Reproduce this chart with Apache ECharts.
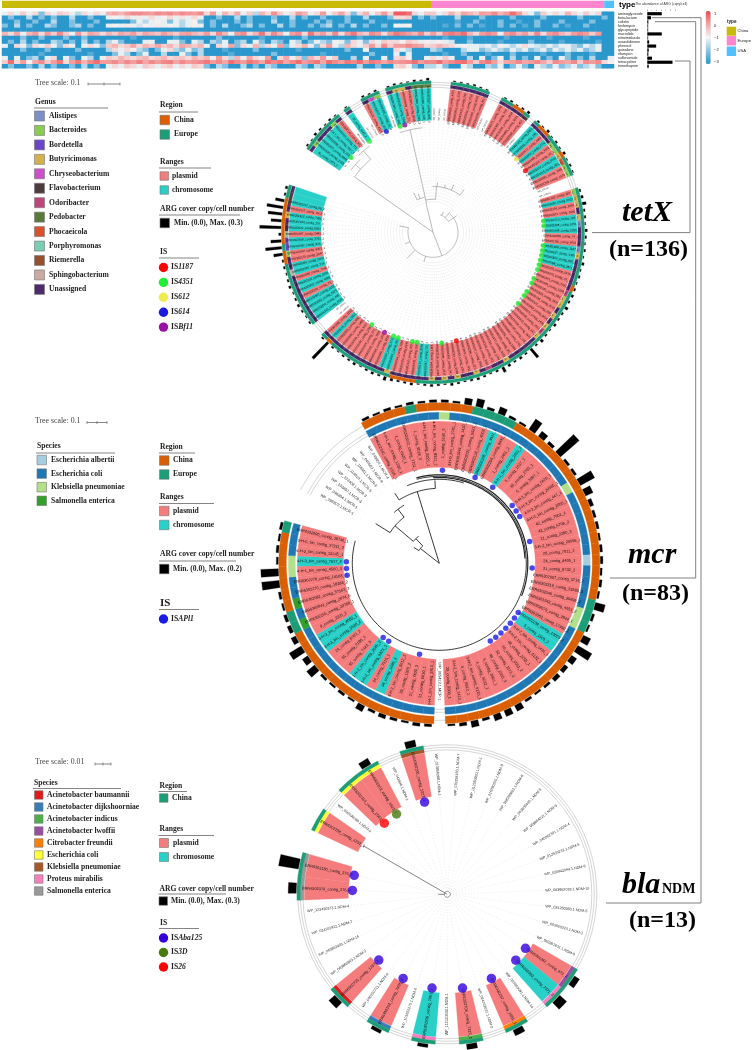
<!DOCTYPE html>
<html><head><meta charset="utf-8">
<style>html,body{margin:0;padding:0;background:#fff}#c{width:754px;height:1050px}</style>
<script src="https://cdn.jsdelivr.net/npm/echarts@6/dist/echarts.min.js"></script>
</head><body><div id="c"></div>
<script>
/* ---------- heatmap ---------- */
const heatRowNames=['aminoglycoside','beta-lactam','colistin','fosfomycin','glycopeptide','macrolide','nitroimidazole','oxazolidinone','phenicol','quinolone','rifamycin','sulfonamide','tetracycline','trimethoprim'];
const rowAminoglycoside=[-1,-.5,-1,-.3,-1,-.5,-2,-.5,-1,-.3,-.5,-1,-1.5,-.5,-1,-.5,-1,0,.2,0,.3,.5,.5,.4,.3,.5,.4,.5,.3,.5,.4,.3,.5,-.5,.3,-1,0,-.5,.2,-1,-.3,-1.5,0,-.5,.4,-.3,-1,-.5,.3,0,-1,-.5,.3,-1,-.3,.2,-.5,-2,-.5,0,-1,-.3,.3,-.5,1,1,.8,-.5,-1,-.3,-.3,-1,-.5,0,-.5,.2,0,-.3,.3,.2,.5,0,.3,.8,.3,-.5,-1,-2,-.3,-1,-.5,-1,0,-.5,-1,-.3,-1,-.5,-3,-3];
const rowBetaLactam=[-3,-2,-3,-3,-1.5,-3,-2,-3,-2,-3,-3,-1.5,-3,-3,-2,-3,-3,-1,-.8,-1,-.5,-1,-.7,-1,-.5,-1,-.8,-.5,-1,-.6,-1,-.5,-1,-3,-3,-2,-3,-3,-1.5,-3,-2,-3,-3,-3,-2,-3,-3,-1.5,-3,-2,-3,-3,-2,-3,-3,-3,-2,-3,-3,-1.5,-3,-3,-3,-2,-.5,-.5,-.3,-3,-2,-3,-2,-3,-3,-3,-1.5,-3,-3,-3,-2,-3,-3,-3,-3,-2,-3,-3,-3,-3,-2,-3,-3,-3,-3,-3,-2,-3,-3,-3,-2,-3];
const rowColistin=[-3,-3,-2,-3,-3,-2,-3,-3,-1.5,-3,-3,-2,-3,-3,-3,-2,-3,-3,-3,-3,-3,-2,-1,-1.5,-1,-.8,-1,-2,-1,-1.5,-1,-.8,-2,-3,-2,-3,-3,-3,-2,-3,-2,-3,-3,-3,-1.5,-3,-3,-2,-3,-3,-3,-2,-3,-2,-3,-3,-2,-3,-3,-3,-2,-3,-3,-3,-3,-3,-3,-3,-3,-3,-3,-3,-3,-3,-2.5,-3,-3,-2,-3,-3,-3,-2,-3,-3,-2.5,-3,-3,-2,-3,-3,-3,-2,-3,-3,-3,-3,-2,-3,-3,-3];
const rowFosfomycin=[-2,-3,-1.5,-3,-2,-3,-3,-1.5,-2,-3,-3,-2,-1.5,-3,-2,-3,-3,-1,-.8,-1,-.7,-1,-1.2,-.8,-1,-.7,-1,-.8,-1,-1.5,-1,-.8,-1,-3,-2,-3,-1.5,-3,-3,-2,-1.5,-3,-2,-3,-3,-1.5,-3,-2,-3,-3,-2,-3,-2,-1.5,-3,-2,-3,-1.5,-3,-2,-3,-3,-2,-3,-.8,-1,-.8,-3,-3,-3,-3,-3,-2.5,-3,-2,-3,-2,-3,-2.5,-3,-3,-2,-3,-2,-3,-2.5,-3,-2,-3,-3,-2,-3,-2.5,-3,-3,-2,-3,-3,-3,-3];
const rowGlycopeptide=[-3,-3,-3,-3,-3,-3,-3,-3,-3,-3,-3,-3,-3,-3,-3,-3,-3,-3,-3,-3,-3,-3,-3,-3,-3,-3,-3,-3,-3,-3,-3,-3,-3,-3,-3,-3,-3,-3,-3,-3,-3,-3,-3,-3,-3,-3,-3,-3,-3,-3,-3,-3,-3,-3,-3,-3,-3,-3,-3,-3,-3,-3,-3,-3,-3,-3,-3,-3,-3,-3,-3,-3,-3,-3,-3,-3,-3,-3,-3,-3,-3,-3,-3,-3,-3,-3,-3,-3,-3,-3,-3,-3,-3,-3,-3,-3,-3,-3,-3,-3];
const rowMacrolide=[0,-.5,.2,-1,0,.3,-.5,.3,-.3,.5,-.3,-1,.3,-.5,.2,0,-.5,0,-.3,.2,0,.3,-.3,.2,0,-.2,.3,0,-.3,.2,.3,0,-.2,.3,-.5,.5,0,-1,.3,.5,-.5,0,.7,-.3,.5,0,-1,.3,.5,-.5,.7,0,.3,-.3,.5,-.5,.3,.7,0,-.3,.5,.3,-.5,.3,.7,.5,.3,0,.5,-.3,.3,-.3,.5,.7,.5,.8,0,-.5,.3,.5,.3,-1,.3,.5,0,.3,-.3,.5,-.5,.3,.5,0,-.3,.3,.5,.3,-.3,.3,-3,-3];
const rowNitroimidazole=[-3,-3,-3,-2,-3,-3,-2,-3,-3,-3,-2,-3,-3,-2,-3,-3,-3,-3,-3,-3,-3,-2.5,-3,-3,-3,-3,-3,-3,-2.5,-3,-3,-3,-3,-3,-3,-2,-3,-3,-3,-3,-3,-3,-2.5,-3,-3,-3,-3,-3,-3,-2,-3,-3,-3,-3,-3,-3,-3,-3,-2.5,-3,-3,-3,-3,-3,-3,-3,-3,-3,-3,-3,-3,-3,-2.5,-3,-3,-3,-2.5,-3,-3,-3,-3,-3,-2.5,-3,-3,-3,-3,-3,-3,-2.5,-3,-3,-3,-3,-3,-2.5,-3,-3,-3,-3];
const rowOxazolidinone=[-3,-2,-3,-1.5,-3,-2,-3,-3,-1.5,-2,-3,-2,-3,-1.5,-3,-2,-3,-1.5,-1,-2,-3,-3,-3,-1,-1,-3,-3,-1,-1,-2,-3,-1,-1.5,-3,-1.5,-2,-1,-3,-2,-1.5,-3,-1,-2,-3,-1.5,-2,-3,-1,-1.5,-3,-2,-1,-1.5,-2,-.8,-1,-2,-.5,-1,-2,-.5,-1,-.3,-.5,-.5,-.8,-.3,-.5,-1,-.8,-1,-.8,-1,-1.2,-3,-3,-2,-3,-3,-3,-3,-2.5,-3,-3,-3,-3,-2,-3,-3,-3,-3,-2.5,-3,-3,-3,-3,-3,-2.5,-3,-3];
const rowPhenicol=[-1,-3,-.5,-1,-2,-.5,-1,-.3,-1,-2,-.5,-1,-3,-1,-.5,-1,-2,-.3,0,-.5,-.3,.2,-.5,0,-.3,.2,-.3,0,-.5,.2,0,-.3,0,-1,-3,-.5,-1,.2,-2,-.5,-1,0,-1.5,-.5,-1,.3,-2,-1,-.5,0,-1,-2,-.5,.3,-1,-1.5,0,-.5,-1,-.3,.3,-.5,.5,-.3,.3,.3,.5,.3,.2,-.5,-.3,0,-.3,-.5,-1,-.8,-1,-1,-1.2,-1,-1.5,-.8,-1,-1.5,-1,-.5,-1,-1.2,-1.5,-1,-1.5,-1,-1,-1.5,-2,-1,-1.5,-1,-3,-3];
const rowQuinolone=[-3,-3,-3,-2,-3,-3,-3,-2,-3,-3,-3,-3,-2,-3,-3,-3,-3,-1.5,-.5,-1,-.5,-.8,-1.5,-2,-3,-2,-1,-.5,-1.5,-2,-1,-2,-1.5,-3,-3,-3,-2.5,-3,-3,-3,-3,-2,-3,-3,-3,-3,-3,-3,-2.5,-3,-3,-3,-3,-3,-3,-3,-2,-3,-3,-.8,-3,-3,-3,-3,-.5,-1,-1.5,-3,-3,-3,-1.5,-2,-3,-3,-3,-1.5,-1,-1,-2,-1.5,-1,-1.5,-2,-1,-1.5,-1,-2,-1.5,-1,-2,-1,-1.5,-1,-1.5,-1,-2,-1.5,-1,-3,-3];
const rowRifamycin=[-3,-3,-3,-3,-3,-3,-2.5,-3,-3,-3,-3,-3,-3,-3,-2.5,-3,-3,-3,-2,-1,-1.5,-3,-2,-1,-3,-3,-1.5,-3,-3,-1,-2,-3,-1.5,-3,-3,-3,-3,-2.5,-3,-3,-3,-3,-3,-3,-2,-3,-3,-3,-3,-3,-3,-3,-2.5,-3,-3,-3,-3,-3,-3,-3,-2,-3,-3,-3,-1,-3,-1,-3,-3,-3,-3,-3,-2.5,-3,-3,-2,-3,-3,-3,-2.5,-3,-3,-3,-2,-3,-3,-3,-3,-2.5,-3,-3,-3,-2,-3,-3,-3,-2.5,-3,-3,-3];
const rowSulfonamide=[-1,-3,-1,-3,-2,-1.5,-3,-1,-.5,-3,-1,-2,-3,-1,-1.5,-3,-1,-.3,-.5,0,-.3,-.5,-.2,0,-.5,-.3,0,-.5,-.3,-.2,-.5,0,-.3,0,-1,.3,-.5,-1.5,0,-1,.2,-.5,-1,.3,-3,-.5,.2,-1,-.3,-2,0,-.5,.3,-1,-.3,-3,-3,-1.5,-3,-1,-3,-3,-1,-3,-.5,-.3,-.8,-3,-3,-1,-.5,-1,-.3,-1,-3,-3,-1.5,-3,-1,-3,-2,-.8,-3,-1.5,-3,-2,-3,-1,-3,-2,-3,-1,-2,-3,-2,-3,-1.5,-3,-3,-1];
const rowTetracycline=[-.3,.8,-.5,.3,-.8,.2,.5,-.3,.3,.7,-.5,.3,.7,0,.5,.8,.3,.3,.5,.2,.5,.3,.6,.2,.5,.3,.5,.6,.2,.5,.3,.4,.5,.7,.3,.5,.2,.8,.5,.3,.7,.5,.2,.8,.5,.7,.2,.5,.8,.3,.5,.7,.2,.8,.5,.3,.7,.5,.8,.3,.7,.5,.2,.5,.3,.4,.5,.8,.3,.5,.5,.8,.3,.5,.7,.8,.3,-.3,.5,.7,.3,-.5,.2,.3,.5,.2,.3,.5,.2,-.3,.5,.3,.2,.5,-.3,.5,.3,.5,-.5,-.8];
const rowTrimethoprim=[-3,-2,-3,-3,-2,-3,-1.5,-3,-2,-3,-3,-2,-3,-1.5,-3,-2,-3,-1,-.5,-1,-.3,-.5,-1,-.3,-.5,-1,-.5,-.3,-1,-.5,-1,-.3,-.5,-2,-3,-1.5,-2,-3,-3,-1.5,-3,-2,-3,-1.5,-2,-3,-3,-3,-1.5,-2,-3,-1.5,-2,-3,-3,-3,-3,-3,-1.5,-3,-3,-2,-3,-3,-.5,-.3,-.8,-2,-3,-1.5,-1.5,-1,-2,-3,-3,-1,-1.5,-3,-3,-1.5,-2,-1,-3,-2,-1,-2,-3,-1,-1.5,-2,-1,-2,-1.5,-1,-2,-1.5,-1,-2,-3,-3];
const heatRows=[rowAminoglycoside,rowBetaLactam,rowColistin,rowFosfomycin,rowGlycopeptide,rowMacrolide,rowNitroimidazole,rowOxazolidinone,rowPhenicol,rowQuinolone,rowRifamycin,rowSulfonamide,rowTetracycline,rowTrimethoprim];
const abundance=[3.1,.8,.2,.1,.1,3.1,.1,.4,1.9,.3,.2,1,5.4,.3];
const typeNames=['China','Europe','USA'];
const typeWidths=[70.1,28.3,1.6];
const typeColors=['#c9bb05','#ff85cf','#4fc1ff'];

/* ---------- shared colours ---------- */
const rangeColors={P:'#f57c7c',C:'#28d0c8',W:'transparent'};
const regionColors={C:'#d95f02',E:'#1b9e77',_:'transparent'};
const genusColors={A:'#7b8fc8',B:'#8acb52',D:'#6a45c8',T:'#d4b04e',H:'#cc4fcc',F:'#4d3b3e',O:'#c0457a',G:'#5a7a3c',N:'#d9502e',Y:'#79cdb2',R:'#96502e',S:'#c9a9a0',U:'#4d2a6c',_:'transparent'};
const mcrSpeciesColors={a:'#a6cee3',e:'#1f78b4',k:'#b2df8a',s:'#33a02c',_:'transparent'};
const blaSpeciesColors={b:'#e31a1c',d:'#377eb8',i:'#4daf4a',l:'#984ea3',c:'#ff7f00',e:'#ffff33',k:'#a65628',p:'#f781bf',s:'#999999',_:'transparent'};

/* ---------- tetX ---------- */
const tetxRangeRuns=[['C',6],['P',1],['W',1],['C',1],['W',2],['P',1],['C',2],['W',1],['C',2],['P',2],['C',3],['W',3],['P',6],['W',2],['P',5],['W',1],['C',2],['P',1],['C',1],['P',2],['C',2],['P',2],['W',2],['P',1],['C',1],['P',2],['C',3],['P',2],['C',4],['P',30],['C',2],['P',4],['C',2],['P',8],['C',1],['P',1],['W',2],['C',4],['P',1],['C',2],['P',1],['C',2],['P',2],['C',2],['P',1],['C',3],['P',1],['C',3]];
const tetxGenusRuns=[['U',1],['B',1],['U',3],['B',1],['U',1],['_',1],['U',1],['_',2],['U',1],['H',1],['B',1],['_',1],['U',1],['T',2],['U',1],['G',3],['_',3],['U',6],['_',2],['U',4],['F',1],['_',1],['U',4],['B',2],['T',1],['N',1],['B',2],['_',2],['B',1],['T',2],['U',1],['T',1],['A',1],['U',1],['U',2],['A',1],['T',1],['U',2],['U',3],['O',1],['T',2],['U',1],['T',1],['U',1],['T',1],['O',1],['T',1],['U',5],['T',1],['U',2],['O',1],['U',1],['T',1],['U',2],['T',1],['U',1],['T',1],['U',1],['T',1],['U',6],['T',1],['U',11],['_',2],['U',8],['S',1],['U',2],['B',1],['D',2],['Y',1],['U',2],['T',1],['U',1],['F',2],['U',1]];
const tetxRegionRuns=[['E',7],['_',1],['E',1],['_',2],['E',3],['_',1],['E',7],['_',3],['E',6],['_',2],['E',2],['C',2],['E',1],['_',1],['E',1],['C',2],['E',3],['C',1],['E',3],['_',2],['E',15],['C',1],['E',29],['C',4],['E',10],['C',1],['E',1],['_',2],['E',10],['C',2],['E',1],['C',7],['E',2]];
const tetxCopy=[.02,.01,.03,.02,.01,.02,.01,0,.01,0,0,.02,.01,.02,0,.01,.02,.01,.01,.02,.01,.03,0,0,0,.01,.01,.01,.02,.01,.01,0,0,.01,.02,.01,.02,.03,0,.02,.01,.03,.01,.02,.01,.03,.01,.02,.01,0,0,.02,.03,.05,.02,.02,.01,.03,.02,.01,.02,.01,.03,.01,.02,.01,.02,.03,.02,.04,.02,.02,.03,.01,.02,.04,.02,.15,.02,.03,.02,.03,.07,.02,.01,.02,.03,.02,.01,.02,.03,.01,.02,.03,.02,.01,.03,.02,.02,.03,.05,.02,.03,.02,.01,.03,.02,.02,.01,.02,.3,.02,0,0,.02,.01,.02,.03,.02,.01,.03,.02,.01,.02,.02,.12,.22,.14,.03,.29,.14,.19,.22,.12,.02,.03];
const tetxIS={'IS1187':[44,88],'IS4351':[3,8,15,55,56,60,61,62,63,64,65,67,68,70,71,73,91,96,97,100,101,106],'IS612':[41],'IS614':[12],'ISBf11':[16,103]};
const tetxLabels=['35_contig_7071_2','ERR6302140_contig_1325_1','ERR6301877_contig_8842_2','ERR6302093_contig_512_1','4-H-2_bin_contig_2917_1','ERR6302311_contig_771_3','SRR6302140_contig_90_2','WP_063856','22_contig_1143_1','WP_071412','WP_071413','ERR6301921_contig_4120_2','ERR6302077_contig_233_1','ERR6302290_contig_61_4','WP_014789','ERR6301845_contig_902_1','ERR6302118_contig_5521_2','ERR6301990_contig_37_1','ERR6302201_contig_8110_1','ERR6302066_contig_2190_3','ERR6301935_contig_148_1','ERR6302187_contig_603_2','WP_025001','WP_025002','WP_025003','ERR6302010_contig_4471_1','ERR6301866_contig_3370_2','ERR6302155_contig_291_1','ERR6302244_contig_7718_1','ERR6301908_contig_5603_2','ERR6302039_contig_86_1','WP_031022','WP_031023','ERR6302173_contig_1942_1','ERR6301952_contig_708_2','ERR6302266_contig_3314_1','ERR6301889_contig_6021_1','ERR6302098_contig_427_3','WP_048112','ERR6302130_contig_8855_1','ERR6302302_contig_190_2','ERR6301977_contig_4096_1','ERR6302051_contig_2742_2','ERR6301860_contig_1183_1','ERR6302214_contig_95_1','ERR6302147_contig_6640_4','ERR6301915_contig_321_1','ERR6302081_contig_7205_2','ERR6302259_contig_1570_1','WP_052140','WP_052141','ERR6301943_contig_887_1','ERR6302026_contig_3912_2','ERR6302196_contig_2066_1','ERR6301871_contig_5480_1','ERR6302113_contig_149_2','ERR6302328_contig_6731_1','ERR6301998_contig_2205_1','ERR6302059_contig_74_1','ERR6302165_contig_9031_2','ERR6301928_contig_1187_1','ERR6302237_contig_4450_1','ERR6301854_contig_660_3','ERR6302088_contig_2871_1','ERR6302125_contig_5316_2','ERR6302278_contig_43_1','ERR6301961_contig_7392_1','ERR6302044_contig_1608_2','ERR6302181_contig_982_1','ERR6301893_contig_3547_1','ERR6302106_contig_8120_2','ERR6302321_contig_266_1','ERR6301984_contig_6014_1','ERR6302072_contig_1439_1','ERR6302208_contig_7553_3','ERR6301939_contig_512_1','ERR6302034_contig_2930_2','ERR6302160_contig_118_1','ERR6301880_contig_4701_1','ERR6302251_contig_6287_2','ERR6302101_contig_35_1','ERR6301957_contig_9120_1','ERR6302019_contig_1764_2','ERR6302192_contig_843_1','ERR6301848_contig_3096_1','ERR6302137_contig_5502_1','ERR6302286_contig_227_2','ERR6301970_contig_7411_1','ERR6302063_contig_1351_1','ERR6302224_contig_6608_2','ERR6301901_contig_94_1','ERR6302095_contig_2817_1','ERR6302316_contig_4430_3','ERR6301994_contig_1906_1','ERR6302047_contig_735_1','ERR6302177_contig_8264_2','ERR6301925_contig_516_1','ERR6302120_contig_3072_1','ERR6302270_contig_6145_2','ERR6301864_contig_1290_1','ERR6302086_contig_88_1','ERR6302199_contig_5739_2','ERR6301946_contig_4215_1','ERR6302030_contig_1023_1','ERR6302152_contig_7860_1','ERR6301875_contig_371_2','ERR6302241_contig_2694_1','ERR6302109_contig_9317_1','ERR6301966_contig_1488_3','ERR6302056_contig_602_1','ERR6302218_contig_5051_1','ERR6301898_contig_2763_2','WP_055910','WP_055911','ERR6302143_contig_8129_1','ERR6302294_contig_446_1','ERR6301981_contig_6370_2','ERR6302069_contig_1152_1','ERR6302206_contig_73_1','ERR6301932_contig_4888_2','ERR6302116_contig_3205_1','ERR6301858_contig_7146_1','ERR6302262_contig_219_2','ERR6302024_contig_5930_1','ERR6302170_contig_1647_1','ERR6301949_contig_8403_1','ERR6302091_contig_926_2','ERR6302308_contig_3751_1','ERR6301987_contig_2480_1','ERR6302042_contig_6092_1','ERR6302184_contig_157_3','ERR6301912_contig_7284_1','ERR6302127_contig_4013_1','ERR6302247_contig_58_2'];
const tetxBranches=[[0,.7,96,.7],[96,.7,96,6.3],[96,6.3,107,6.3],[96,3,103,3],[103,1.5,103,4.5],[107,5,107,8],[0,85,25,85],[25,39,25,133],[25,133,34,133],[25,111,37,111],[0,17,30,17],[30,17.3,105,17.3],[105,15,105,20],[33,17.3,33,24],[33,24,46,24],[46,22,46,36.5],[46,24.3,50,24.3],[46,31.6,52,31.6],[46,36.5,53,36.5],[46,28,49,28],[36,12,36,17],[36,12,44,12],[36,14,41,14],[19,31,19,44],[19,44,29,44],[19,38,26,38],[19,33,23,33],[25,100,31,100],[25,120,30,120]];

/* ---------- mcr ---------- */
const mcrRangeRuns=[['W',8],['P',12],['C',1],['P',2],['C',1],['P',20],['C',2],['P',12],['W',1],['P',5],['C',1],['P',1],['C',2],['P',3],['C',2],['P',7],['C',1],['P',3]];
const mcrSpeciesRuns=[['_',8],['e',7],['k',1],['e',13],['k',1],['e',6],['a',1],['e',4],['k',2],['e',15],['_',1],['e',15],['s',1],['e',1],['s',1],['e',2],['k',2],['e',3]];
const mcrRegionRuns=[['_',8],['C',4],['E',1],['C',5],['E',4],['C',18],['E',3],['C',15],['_',1],['C',15],['E',2],['C',7],['E',1]];
const mcrCopy=[0,0,0,0,0,0,0,0,.02,.015,.02,.015,.02,.015,.02,.02,.015,.05,.065,.02,.055,.02,.015,.1,.05,.025,.2,.02,.02,.13,.065,.03,.02,.02,.015,.02,.02,.015,.02,.015,.08,.02,.015,.065,.13,.05,.035,.035,.02,.015,.02,.05,.05,.05,.02,.05,.025,.015,0,.02,.025,.015,.02,.03,.02,.05,.015,.02,.015,.02,.08,.05,.11,.04,.03,.025,.015,.02,.14,.14,.015,.02,.015,.02];
const mcrIS={'ISApl1':[15,20,23,27,28,29,33,37,44,45,46,47,48,49,50,61,66,67,78,79,80]};
const mcrLabels=['WP_096803.1.MCR-1','WP_096804.1.MCR-1','WP_133407.1.MCR-3','WP_133408.1.MCR-3','WP_116910.1.MCR-5','WP_116911.1.MCR-5','WP_049603.1.MCR-9','WP_049604.1.MCR-4','ERR6302140_contig_1318_1','5-H-1_bin_contig_1320_1','1_contig_6620_1','ERR6302072_contig_7751_1','1_contig_9018_3','4-H-1_bin_contig_8221_1','4-H-1_bin_contig_9311_2','1_contig_5140_3','4-H-0_bin_contig_2781_1','ERR6301944_contig_1420_1','ERR6302031_contig_5521_2','ERR6302118_contig_4003_1','ERR6302205_contig_3021_1','ERR6302260_contig_9031_1','1_contig_2451_2','6-H-1_bin_contig_2401_2','5_contig_1017_1','36_contig_2702_1','5_contig_3987_1','5-H-3_bin_contig_6625_1','5-H-3_bin_contig_20335_1','4-H-3_bin_contig_447_1','4-H-3_bin_contig_2050_1','42_contig_7901_1','42_contig_6708_2','21_contig_2290_3','3-H-2_bin_contig_20095_1','28_contig_7911_2','24_contig_4405_1','21_contig_6732_2','ERR6302057_contig_5716_2','ERR6302216_contig_32583_2','ERR6302340_contig_25899_2','ERR6301948_contig_4551_2','ERR6302079_contig_2844_1','ERR6302063_contig_17930_1','ERR6302109_contig_10023_1','5_contig_1505_2','6-H-2_bin_contig_5435_1','6-H-2_bin_contig_6132_1','48_contig_2255_1','56_contig_5061_2','32_contig_1173_2','48_contig_2008_3','5_contig_3501_1','4_contig_6032_2','3-H-2_bin_contig_9120_1','4_contig_8812_1','3-H-2_bin_contig_1410_1','28_contig_5503_1','WP_065419.1.MCR-1','3-H-1_bin_contig_2810_1','21_contig_6610_1','31_contig_7420_3','33_contig_1920_2','5-H-2_bin_contig_5012_2','34_contig_1680_3','34_contig_7315_1','1-H-2_bin_contig_9923_1','1-H-2_bin_contig_2045_2','55_contig_7443_3','55_contig_2190_1','24_contig_6702_2','3-H-3_bin_contig_5630_2','3-H-3_bin_contig_4082_1','9_contig_2325_2','ERR6302155_contig_20700_1','ERR6302041_contig_2074_6','ERR6302082_contig_57103_3','ERR6302270_contig_18288_2','ERR6302278_contig_14108_3','4-H-1_bin_contig_4560_3','4-H-3_bin_contig_7617_2','6-H-3_bin_contig_23245_1','5-H-0_bin_contig_27211_3','ERR6302090_contig_38740_1'];
const mcrBranches=[[0,10.9,75,10.9],[75,7.2,75,14.3],[75,14.3,83,14.3],[75,7.2,83,7.2],[84,9.6,84,19.1],[87,11.4,87,83.9],[0,2.5,24,2.5],[24,1,24,4.5],[24,4.5,34,4.5],[34,3,34,6],[34,3,58,3],[58,1,58,6],[58,6,68,6],[58,1,75,1],[68,5,68,7.5],[24,1,30,1]];
const mcrThickBranches=[[88.5,11.4,88.5,42],[85.8,14,85.8,36]];

/* ---------- blaNDM ---------- */
const blaRangeRuns=[['P',1],['W',1],['P',2],['W',1],['P',1],['W',14],['P',1],['C',1],['W',1],['P',1],['W',1],['P',1],['W',1],['C',1],['W',1],['P',1],['W',1],['P',1],['W',4],['P',2]];
const blaSpeciesRuns=[['e',1],['_',1],['e',2],['_',1],['k',1],['_',14],['l',1],['p',1],['_',1],['c',1],['_',1],['i',1],['_',1],['p',1],['_',1],['d',1],['_',1],['b',1],['_',4],['s',2]];
const blaRegionRuns=[['E',1],['_',1],['E',2],['_',1],['E',1],['_',14],['E',1],['E',1],['_',1],['E',1],['_',1],['E',1],['_',1],['E',1],['_',1],['E',1],['_',1],['E',1],['_',4],['E',2]];
const blaCopy=[0,0,0,.1,0,.1,0,0,0,0,0,0,0,0,0,0,0,0,0,0,.09,.14,0,.09,0,.08,0,.05,0,.05,0,.12,0,0,0,0,.12,.3];
const blaIS={'ISAba125':[5,20,21,23,25,27,29,31,36,37],'IS3D':[3],'IS26':[2]};
const blaISColors={'ISAba125':'#3300dd','IS3D':'#4a7a0c','IS26':'#ff0000'};
const blaLabels=['ERR6302258_contig_4232_1','WP_050436280.1.NDM-5','ERR6302314_contig_2561_1','ERR6302102_contig_1921_2','WP_043846.1.NDM-1','ERR6302296_contig_1327_1','WP_013856288.1.NDM-1','WP_078198160.1.NDM-7','WP_012580920.1.NDM-1','WP_016390205.1.NDM-9','WP_058309693.1.NDM-6','WP_063859440.1.NDM-5','WP_009804321.1.NDM-5','WP_040062301.1.NDM-4','WP_012533232.1.NDM-5','WP_020942094.1.NDM-6','WP_063862018.1.NDM-10','WP_024260360.1.NDM-5','WP_063850223.1.NDM-3','WP_063862631.1.NDM-8','ERR6302342_contig_972_2','ERR6302390_contig_7371_3','WP_063860091.1.NDM-14','ERR6302257_contig_1981_1','WP_024762037.1.NDM-2','ERR6302708_contig_7125_1','WP_111510339.1.NDM-1','ERR6302536_contig_7081_1','WP_101653275.1.NDM-6','ERR6302152_contig_7435_8','WP_040252711.1.NDM-9','ERR6302720_contig_1267_3','WP_063860843.1.NDM-2','WP_063862403.1.NDM-16','WP_024102922.1.NDM-7','WP_123490373.1.NDM-4','ERR6302376_contig_276_4','ERR6302180_contig_276_3'];

/* ---------- legend lists ---------- */
const tetxGenusNames=['Alistipes','Bacteroides','Bordetella','Butyricimonas','Chryseobacterium','Flavobacterium','Odoribacter','Pedobacter','Phocaeicola','Porphyromonas','Riemerella','Sphingobacterium','Unassigned'];
const tetxGenusOrder=['A','B','D','T','H','F','O','G','N','Y','R','S','U'];
const mcrSpeciesNames=['Escherichia albertii','Escherichia coli','Klebsiella pneumoniae','Salmonella enterica'];
const mcrSpeciesOrder=['a','e','k','s'];
const blaSpeciesNames=['Acinetobacter baumannii','Acinetobacter dijkshoorniae','Acinetobacter indicus','Acinetobacter lwoffii','Citrobacter freundii','Escherichia coli','Klebsiella pneumoniae','Proteus mirabilis','Salmonella enterica'];
const blaSpeciesOrder=['b','d','i','l','c','e','k','p','s'];
const tetxISColors={'IS1187':'#ff0000','IS4351':'#22ee33','IS612':'#eeea50','IS614':'#1a1add','ISBf11':'#9b0fa5'};

/* ---------- helpers ---------- */
const SERIF='"Liberation Serif"';
const expand=runs=>runs.flatMap(([c,n])=>Array(n).fill(c));
const series=[],polar=[],angleAxis=[],radiusAxis=[],gfx=[];
const RMAX=195;
function cellBar(pi,stack,values,colors,gap,z){
  series.push({type:'bar',coordinateSystem:'polar',polarIndex:pi,stack,barCategoryGap:gap,z,silent:true,animation:false,
    data:values.map((v,i)=>{const col=colors?colors[i]:'transparent';
      return {value:v,itemStyle:{color:col,borderColor:col,borderWidth:col==='transparent'||!colors?0:.3}};})});
}
function edgeSeries(pi,edges,stroke,lw,dash,z){
  series.push({type:'custom',coordinateSystem:'polar',polarIndex:pi,z,silent:true,clip:false,animation:false,
    encode:{radius:0,angle:1},data:edges,
    renderItem(params,api){
      const r0=api.value(0),p0=api.value(1),r1=api.value(2),p1=api.value(3),pts=[];
      const n=r0===r1?Math.ceil(Math.abs(p1-p0)*2)+1:1;
      for(let k=0;k<=n;k++){const t=k/n;pts.push(api.coord([r0+(r1-r0)*t,p0+(p1-p0)*t]));}
      return {type:'polyline',shape:{points:pts},style:{stroke,lineWidth:lw,fill:null,lineDash:dash||null}};
    }});
}
function labelSeries(pi,items,texts,font,fill,z){
  series.push({type:'custom',coordinateSystem:'polar',polarIndex:pi,z,silent:true,clip:false,animation:false,
    encode:{radius:0,angle:1},data:items,
    renderItem(params,api){
      const pt=api.coord([api.value(0),api.value(1)]),cs=params.coordSys;
      let rot=Math.atan2(cs.cy-pt[1],pt[0]-cs.cx);
      if(Math.cos(rot)<0)rot+=Math.PI;
      return {type:'text',x:pt[0],y:pt[1],rotation:rot,style:{text:texts[api.value(2)],font,fill,align:'center',verticalAlign:'middle'}};
    }});
}
function addTree(c){
  const base=polar.length, A=base,B=base+1,K=base+2;
  const cats=Array.from({length:c.N},(_,i)=>String(i));
  for(let j=0;j<3;j++){
    polar.push({center:c.center,radius:[0,RMAX]});
    radiusAxis.push({polarIndex:base+j,type:'value',min:0,max:RMAX,show:false});
    angleAxis.push(j<2?{polarIndex:base+j,type:'category',data:cats,startAngle:c.startAngle,show:false}
      :{polarIndex:base+j,type:'value',min:0,max:c.N,startAngle:c.startAngle,show:false});
  }
  const ranges=c.ranges,n=ranges.length,fill=v=>Array(n).fill(v);
  edgeSeries(K,c.guideArcs,'#aaa',.5,null,1);
  edgeSeries(K,c.dotted,'#d8d8d8',.5,[1,2],1);
  const key='rings'+base,g=c.geo;
  cellBar(A,key,fill(g.r0),null,'0%',2);
  cellBar(A,key,fill(g.r1-g.r0),ranges.map(r=>rangeColors[r]),'0%',2);
  cellBar(A,key,fill(g.i0-g.r1),null,'0%',2);
  cellBar(A,key,fill(g.i1-g.i0),c.inner,'0%',2);
  cellBar(A,key,fill(g.o0-g.i1),null,'0%',2);
  cellBar(A,key,fill(g.o1-g.o0),c.outer,'0%',2);
  const ck='copy'+base;
  cellBar(B,ck,fill(g.o1+.6),null,c.barGap,2);
  cellBar(B,ck,c.copy.map(v=>v*c.copyScale),c.copy.map(v=>v>0?'#000':'transparent'),c.barGap,2);
  edgeSeries(K,c.branches,c.treeColor,c.treeWidth,null,3);
  if(c.thick)edgeSeries(K,c.thick,c.treeColor,1.2,null,3);
  const inside=[],outsideW=[];
  ranges.forEach((r,i)=>(r==='W'?outsideW:inside).push([r==='W'?c.whiteR:c.labelR,i+.5,i]));
  labelSeries(K,inside,c.labels,c.labelFont,'#111',4);
  labelSeries(K,outsideW,c.labels,c.whiteFont,'#333',4);
  Object.keys(c.is).forEach(name=>{
    series.push({type:'scatter',name,coordinateSystem:'polar',polarIndex:K,symbolSize:c.dotSize,z:5,silent:true,animation:false,
      itemStyle:{color:c.isColors[name]},data:c.is[name].map(i=>[c.dotR,i+.5])});
  });
}
const dotted=(ranges,rTip,rWhite,rStart)=>ranges.map((r,i)=>[rStart,i+.5,r==='W'?rWhite:rTip,i+.5]);

/* ---------- trees ---------- */
const tetxRanges=expand(tetxRangeRuns);
addTree({N:142,center:[433,232.3],startAngle:146.5,ranges:tetxRanges,
  inner:expand(tetxGenusRuns).map(k=>genusColors[k]),outer:expand(tetxRegionRuns).map(k=>regionColors[k]),
  copy:tetxCopy,copyScale:73.3,barGap:'62%',geo:{r0:112,r1:144,i0:145,i1:148,o0:148.5,o1:151.5},
  guideArcs:[[145,0,145,136],[147.5,0,147.5,136],[150,0,150,136]],dotted:dotted(tetxRanges,112,114,30),
  branches:tetxBranches,treeColor:'#777',treeWidth:.5,labels:tetxLabels,labelR:128,whiteR:118,labelFont:'2.9px "Liberation Sans"',whiteFont:'2.2px "Liberation Sans"',
  is:tetxIS,isColors:tetxISColors,dotR:111,dotSize:5});
const mcrRanges=expand(mcrRangeRuns);
addTree({N:87,center:[439.3,563.3],startAngle:152.2,ranges:mcrRanges,
  inner:expand(mcrSpeciesRuns).map(k=>mcrSpeciesColors[k]),outer:expand(mcrRegionRuns).map(k=>regionColors[k]),
  copy:mcrCopy,copyScale:125,barGap:'38%',geo:{r0:96,r1:142,i0:144,i1:151,o0:153,o1:160.5},
  guideArcs:[[146,0,146,84],[149,0,149,84],[157,0,157,84]],dotted:dotted(mcrRanges,96,102,90),
  branches:mcrBranches,thick:mcrThickBranches,treeColor:'#222',treeWidth:.9,labels:mcrLabels,labelR:120,whiteR:118,labelFont:'3.9px "Liberation Sans"',whiteFont:'3.9px "Liberation Sans"',
  is:mcrIS,isColors:{'ISApl1':'#1a1ae6'},dotR:93,dotSize:5.5});
const blaRanges=expand(blaRangeRuns);
addTree({N:39,center:[447.3,894.3],startAngle:154.6,ranges:blaRanges,
  inner:expand(blaSpeciesRuns).map(k=>blaSpeciesColors[k]),outer:expand(blaRegionRuns).map(k=>regionColors[k]),
  copy:blaCopy,copyScale:66.7,barGap:'58%',geo:{r0:99,r1:143,i0:143.5,i1:147,o0:147,o1:150.5},
  guideArcs:[[144.5,0,144.5,38],[147,0,147,38],[149.5,0,149.5,38]],dotted:dotted(blaRanges,99,105,6),
  branches:[[0,.5,97,.5],[3,0,3,39],[3,36.25,9,36.25]],treeColor:'#555',treeWidth:.7,labels:blaLabels,labelR:121,whiteR:120,labelFont:'3.9px "Liberation Sans"',whiteFont:'3.7px "Liberation Sans"',
  is:blaIS,isColors:blaISColors,dotR:95,dotSize:9.5});

/* ---------- static graphic text, swatches, connectors ---------- */
const T=(x,y,text,font,fill,extra)=>gfx.push({type:'text',silent:true,z:20,style:Object.assign({x,y,text,font,fill:fill||'#222',align:'left',verticalAlign:'middle'},extra||{})});
const L=(x1,y1,x2,y2,stroke,lw)=>gfx.push({type:'line',silent:true,z:20,shape:{x1,y1,x2,y2},style:{stroke:stroke||'#555',lineWidth:lw||.8}});
const SQ=(x,y,s,fill)=>gfx.push({type:'rect',silent:true,z:20,shape:{x,y:y-s/2,width:s,height:s},style:{fill,stroke:'#777',lineWidth:.6}});
const DOT=(x,y,r,fill)=>gfx.push({type:'circle',silent:true,z:20,shape:{cx:x,cy:y,r},style:{fill}});
const B8='bold 7.6px '+SERIF;
const title=(x,y,text,x2,yl)=>{T(x,y,text,B8);L(x-1,yl,x2,yl,'#666',.8);};
const isItem=(x,y,color,pre,it)=>{DOT(x,y,4.7,color);
  gfx.push({type:'text',silent:true,z:20,style:{x:x+7.5,y,text:`{a|${pre}}{b|${it}}`,verticalAlign:'middle',fill:'#222',rich:{a:{font:B8,fill:'#222'},b:{font:'italic bold 7.6px '+SERIF,fill:'#222'}}}});};
const scale=(x1,x2,y)=>{L(x1,y,x2,y,'#555',.7);[x1,(x1+x2)/2,x2].forEach(x=>L(x,y-1.5,x,y+1.5,'#555',.6));};

/* legend 1 */
T(35,83,'Tree scale: 0.1','7.8px '+SERIF,'#444');scale(88,120,84);
title(35,102,'Genus',108,108);
tetxGenusNames.forEach((n,i)=>{const y=116+i*14.45;SQ(34.5,y,10,genusColors[tetxGenusOrder[i]]);T(49,y,n,B8);});
title(160,105.5,'Region',198,112);
SQ(160,120,9.5,regionColors.C);T(174,120,'China',B8);SQ(160,134.5,9.5,regionColors.E);T(174,134.5,'Europe',B8);
title(160,162,'Ranges',211,168);
SQ(160,176,8.5,rangeColors.P);T(172,176,'plasmid',B8);SQ(160,190,8.5,rangeColors.C);T(172,190,'chromosome',B8);
title(160,209,'ARG cover copy/cell number',240,215);
SQ(160,223,9.5,'#000');T(174,223,'Min. (0.0), Max. (0.3)',B8);
title(160,252.5,'IS',199,258);
[['IS','1187','IS1187'],['IS','4351','IS4351'],['IS','612','IS612'],['IS','614','IS614'],['IS','Bf11','ISBf11']].forEach((d,i)=>isItem(163.5,267.5+i*14.9,tetxISColors[d[2]],d[0],d[1]));

/* legend 2 */
T(35,421,'Tree scale: 0.1','7.8px '+SERIF,'#444');scale(87,107,422.5);
title(37,446,'Species',115,453);
mcrSpeciesNames.forEach((n,i)=>{const y=460+i*13.6;SQ(37,y,9.5,mcrSpeciesColors[mcrSpeciesOrder[i]]);T(51,y,n,B8);});
title(160,447,'Region',195,453);
SQ(159.5,460.5,9.5,regionColors.C);T(173,460.5,'China',B8);SQ(159.5,474.5,9.5,regionColors.E);T(173,474.5,'Europe',B8);
title(160,497.5,'Ranges',214,503.5);
SQ(159.5,511,9.5,rangeColors.P);T(173,511,'plasmid',B8);SQ(159.5,525,9.5,rangeColors.C);T(173,525,'chromosome',B8);
title(160,554.5,'ARG cover copy/cell number',236,561);
SQ(159.5,569,9.5,'#000');T(173,569,'Min. (0.0), Max. (0.2)',B8);
L(159,609.5,199,609.5,'#666',.8);T(160,603,'IS','bold 11px '+SERIF);
isItem(163.5,619,'#1a1ae6','IS','APl1');

/* legend 3 */
T(35,762,'Tree scale: 0.01','7.8px '+SERIF,'#444');scale(95,111,764);
title(34,783,'Species',121,788.5);
blaSpeciesNames.forEach((n,i)=>{const y=795+i*12;SQ(34.5,y,8.5,blaSpeciesColors[blaSpeciesOrder[i]]);T(47,y,n,B8);});
title(159.5,786,'Region',187,791.5);
SQ(159.5,798,8.5,regionColors.E);T(172,798,'China',B8);
title(159.5,829.5,'Ranges',214,835.5);
SQ(159.5,843,9,rangeColors.P);T(173,843,'plasmid',B8);SQ(159.5,857,9,rangeColors.C);T(173,857,'chromosome',B8);
title(159.5,889,'ARG cover copy/cell number',226,894);
SQ(159,901,8.5,'#000');T(171,901,'Min. (0.0), Max. (0.3)',B8);
title(160,923.5,'IS',199,928.5);
isItem(163.5,938,blaISColors['ISAba125'],'IS','Aba125');isItem(163.5,952.5,blaISColors['IS3D'],'IS','3D');isItem(163.5,967,blaISColors['IS26'],'IS','26');

/* connectors and names */
const CC='#808080';
L(675,61,690,61,CC,1);L(690,61,690,232.6,CC,1);L(690,232.6,592,232.6,CC,1);
L(655,21.7,695.7,21.7,CC,1);L(695.7,21.7,695.7,578,CC,1);L(695.7,578,610,578,CC,1);
L(652,17.7,701,17.7,CC,1);L(701,17.7,701,903,CC,1);L(701,903,606,903,CC,1);
const NAME='italic bold 30px '+SERIF, NUM='bold 24px '+SERIF;
T(622,213,'tetX',NAME,'#000');T(609,250,'(n=136)',NUM,'#000');
T(628,555,'mcr',NAME,'#000');T(622,594,'(n=83)',NUM,'#000');
T(622,885,'bla',NAME,'#000');T(662,889,'NDM','bold 14px '+SERIF,'#000');T(629,921,'(n=13)',NUM,'#000');

/* heat annotation legend */
T(619,4.5,'type','bold 8px "Liberation Sans"','#000');
T(727,22,'type','bold 4.6px "Liberation Sans"','#222');
[[26.7,35.7],[36,45.5],[46.5,56]].forEach((d,i)=>{gfx.push({type:'rect',silent:true,z:20,shape:{x:726.7,y:d[0],width:9.4,height:d[1]-d[0]},style:{fill:typeColors[i]}});
  T(737.5,(d[0]+d[1])/2,typeNames[i],'4.2px "Liberation Sans"','#222');});
[['1',14],['0',26],['\u22121',38],['\u22122',50],['\u22123',62]].forEach(d=>T(714,d[1],d[0],'4.2px "Liberation Sans"','#222'));

/* ---------- grids ---------- */
const heatData=[];heatRows.forEach((row,r)=>row.forEach((v,c)=>heatData.push([c,r,v])));
const colIdx=heatRows[0].map((_,i)=>String(i));
const grid=[{left:2,top:.7,width:612,height:7.3},{left:2,top:11.7,width:612,height:56.6},{left:647.3,top:11.7,width:28,height:56.6}];
const xAxis=[
 {gridIndex:0,type:'value',min:0,max:100,show:false},
 {gridIndex:1,type:'category',data:colIdx,show:false},
 {gridIndex:2,type:'value',min:0,max:6,interval:1,position:'top',name:'The abundance of ARG (copy/cell)',nameLocation:'middle',nameGap:4.5,
  nameTextStyle:{fontSize:3.4,color:'#333'},axisLine:{lineStyle:{color:'#333',width:.4}},axisTick:{length:1.5,lineStyle:{color:'#333',width:.4}},
  axisLabel:{fontSize:2.5,margin:.8,rotate:90,color:'#333'},splitLine:{show:false}}];
const yAxis=[
 {gridIndex:0,type:'category',data:['type'],show:false},
 {gridIndex:1,type:'category',data:heatRowNames,inverse:true,position:'right',axisLine:{show:false},axisTick:{show:false},
  axisLabel:{fontSize:3.6,margin:4,color:'#222',interval:0,fontFamily:'"Liberation Sans"'}},
 {gridIndex:2,type:'category',data:heatRowNames,inverse:true,axisLine:{lineStyle:{color:'#333',width:.4}},axisTick:{show:false},axisLabel:{show:false}}];
typeNames.forEach((n,i)=>series.push({type:'bar',name:n,xAxisIndex:0,yAxisIndex:0,stack:'type',barWidth:'100%',silent:true,animation:false,
  itemStyle:{color:typeColors[i]},data:[typeWidths[i]]}));
const heatSeriesIndex=series.length;
series.push({type:'heatmap',xAxisIndex:1,yAxisIndex:1,data:heatData,silent:true,animation:false,progressive:0});
series.push({type:'bar',xAxisIndex:2,yAxisIndex:2,data:abundance,barCategoryGap:'22%',silent:true,animation:false,itemStyle:{color:'#000'}});

const chart=echarts.init(document.getElementById('c'),null,{renderer:'canvas',width:754,height:1050});
chart.setOption({animation:false,backgroundColor:'#fff',tooltip:{show:false},
  grid,xAxis,yAxis,polar,angleAxis,radiusAxis,series,
  visualMap:[{type:'continuous',seriesIndex:heatSeriesIndex,min:-3,max:1.25,calculable:false,show:true,left:705.7,top:11,padding:0,itemWidth:5,itemHeight:53,showLabel:false,
    inRange:{color:['#2b98cd','#86c2e2','#f5f5f5','#f4a6a6','#e9474c']}}],
  graphic:{elements:gfx}});
</script></body></html>
